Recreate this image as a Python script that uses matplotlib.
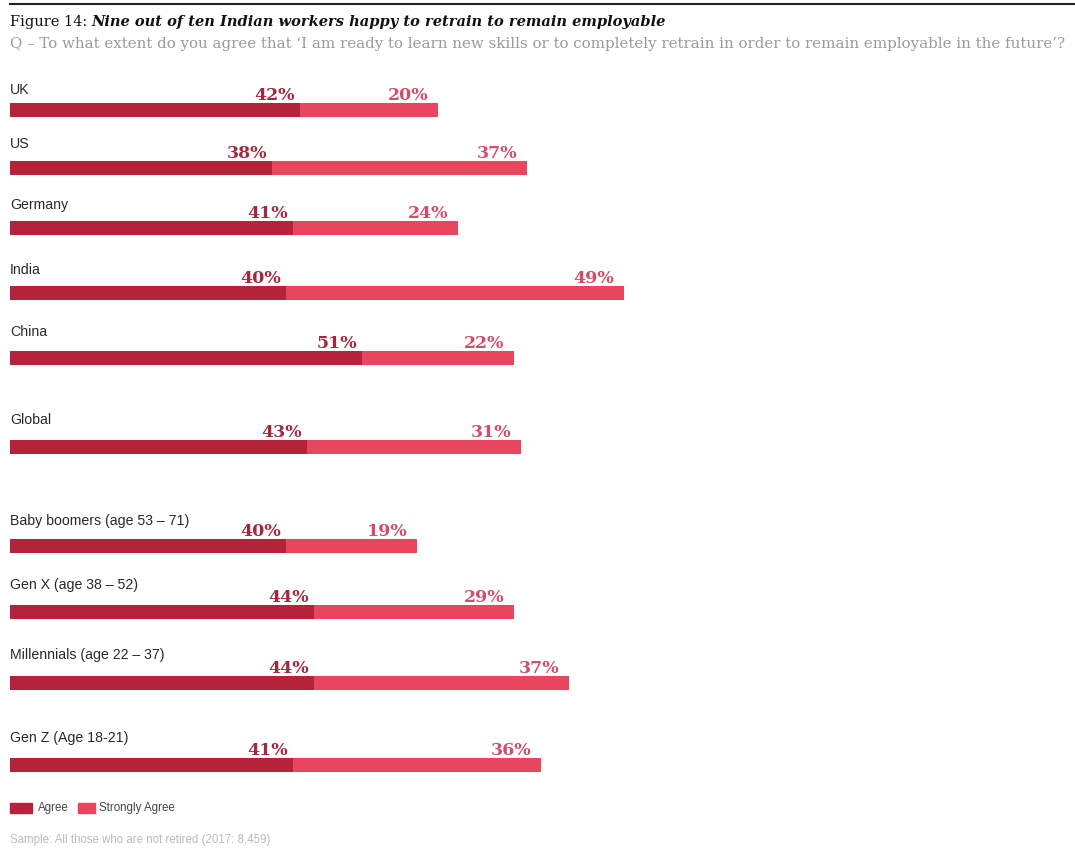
import matplotlib.pyplot as plt
from matplotlib.patches import Rectangle

# --------------------------------------------------
# Data
# --------------------------------------------------
categories = ['UK', 'US', 'Germany', 'India', 'China', 'Global',
              'Baby boomers (age 53 – 71)', 'Gen X (age 38 – 52)',
              'Millennials (age 22 – 37)', 'Gen Z (Age 18-21)']
agree = [42, 38, 41, 40, 51, 43, 40, 44, 44, 41]
strongly = [20, 37, 24, 49, 22, 31, 19, 29, 37, 36]

# layout: bar centres and category label centres (pixels from top)
rows = [110, 168, 228, 293, 358, 447, 546, 612, 683, 765]
label_rows = [90, 144, 205, 270, 332, 420, 521, 585, 655, 738]

agree_col = '#B5233B'
strong_col = '#E8465F'
agree_txt = '#A3293F'
strong_txt = '#D24D69'

W, H = 1075, 848
fig = plt.figure(figsize=(W / 100, H / 100), dpi=100)

# axes: x in %, y in pixel rows
ax = fig.add_axes([10 / W, 0, 690 / W, 1])
ax.set_xlim(0, 100)
ax.set_ylim(H, 0)
ax.axis('off')

ax.barh(rows, agree, height=14, color=agree_col, edgecolor='none')
ax.barh(rows, strongly, left=agree, height=14, color=strong_col, edgecolor='none')

for y, ly, a, s, name in zip(rows, label_rows, agree, strongly, categories):
    ax.text(0, ly, name, fontsize=10.2, family='Liberation Sans',
            color='#2a2a2a', va='center', ha='left')
    ax.text(a - 0.7, y - 10, f'{a}%', fontsize=12.5, family='DejaVu Serif',
            color=agree_txt, va='baseline', ha='right', fontweight='bold')
    ax.text(a + s - 1.4, y - 10, f'{s}%', fontsize=12.5, family='DejaVu Serif',
            color=strong_txt, va='baseline', ha='right', fontweight='bold')

# --------------------------------------------------
# Title area
# --------------------------------------------------
fig.add_artist(plt.Line2D([10 / W, 1], [1 - 4 / H, 1 - 4 / H],
                          color='#222222', lw=1.5))
t1 = fig.text(10 / W, 1 - 26 / H, 'Figure 14: ', fontsize=10.5,
              family='DejaVu Serif', color='#111111', va='baseline', ha='left')
ax.annotate('Nine out of ten Indian workers happy to retrain to remain employable',
            xy=(1, 0), xycoords=t1, va='bottom', ha='left',
            fontsize=10.5, family='DejaVu Serif', style='italic',
            fontweight='bold', color='#111111', annotation_clip=False)
fig.text(10 / W, 1 - 44 / H,
         'Q – To what extent do you agree that \u2018I am ready to learn new skills '
         'or to completely retrain in order to remain employable in the future\u2019?',
         fontsize=10.85, family='DejaVu Serif', color='#9a9a9a',
         va='center', ha='left')

# --------------------------------------------------
# Legend & footnote
# --------------------------------------------------
fig.add_artist(Rectangle((10 / W, 1 - 813 / H), 22 / W, 10 / H,
                         color=agree_col, transform=fig.transFigure))
fig.text(38 / W, 1 - 808 / H, 'Agree', fontsize=8.3, family='Liberation Sans',
         color='#444444', va='center')
fig.add_artist(Rectangle((78 / W, 1 - 813 / H), 17 / W, 10 / H,
                         color=strong_col, transform=fig.transFigure))
fig.text(99 / W, 1 - 808 / H, 'Strongly Agree', fontsize=8.3,
         family='Liberation Sans', color='#444444', va='center')
fig.text(10 / W, 1 - 840 / H, 'Sample: All those who are not retired (2017: 8,459)',
         fontsize=8.3, family='Liberation Sans', color='#bbbbbb', va='center')

plt.savefig('out.png', dpi=100)
